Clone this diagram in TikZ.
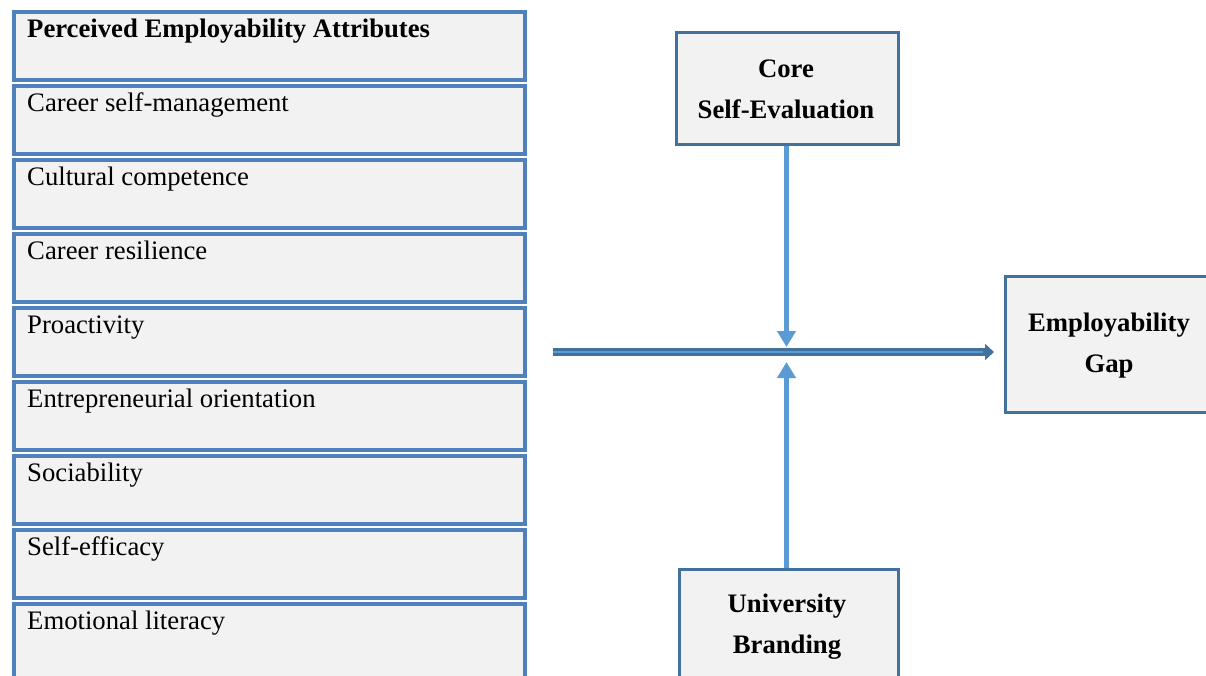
\documentclass[tikz,border=0pt]{standalone}
\usepackage{fontspec}
\setmainfont{Liberation Serif}
\usetikzlibrary{arrows.meta}
\definecolor{colborder}{HTML}{4F81BD}
\definecolor{boxborder}{HTML}{41719C}
\definecolor{boxfill}{HTML}{F2F2F2}
\definecolor{arrowlight}{HTML}{5B9BD5}
\begin{document}
\begin{tikzpicture}[x=1pt,y=-1pt,
  attrbox/.style={draw=colborder,fill=boxfill,line width=4pt,rectangle,inner sep=0pt,minimum width=511pt,minimum height=68pt,anchor=north west},
  attrtext/.style={anchor=base west,inner sep=0pt,font=\fontsize{26.7}{30}\selectfont},
  sidebox/.style={draw=boxborder,fill=boxfill,line width=2.5pt,rectangle,inner sep=0pt,anchor=north west},
  sidetext/.style={align=center,inner sep=0pt,font=\fontsize{26.7}{41}\selectfont\bfseries},
  varrow/.style={draw=arrowlight,line width=4.5pt,-{Triangle[width=18pt,length=16pt]}},
]
\useasboundingbox (0,0) rectangle (1206,675);
\clip (0,0) rectangle (1206,675);
% left column
\node[attrbox] (b1) at (12,10) {};
\node[attrbox] (b2) at (12,84) {};
\node[attrbox] (b3) at (12,158) {};
\node[attrbox] (b4) at (12,232) {};
\node[attrbox] (b5) at (12,306) {};
\node[attrbox] (b6) at (12,380) {};
\node[attrbox] (b7) at (12,454) {};
\node[attrbox] (b8) at (12,528) {};
\node[attrbox,minimum height=90pt] (b9) at (12,602) {};
\node[attrtext,font=\fontsize{26.7}{30}\selectfont\bfseries] (t1) at (27,37) {Perceived Employability Attributes};
\node[attrtext] (t2) at (27,111) {Career self-management};
\node[attrtext] (t3) at (27,185) {Cultural competence};
\node[attrtext] (t4) at (27,259) {Career resilience};
\node[attrtext] (t5) at (27,333) {Proactivity};
\node[attrtext] (t6) at (27,407) {Entrepreneurial orientation};
\node[attrtext] (t7) at (27,481) {Sociability};
\node[attrtext] (t8) at (27,555) {Self-efficacy};
\node[attrtext] (t9) at (27,629) {Emotional literacy};
% right boxes
\node[sidebox,minimum width=222pt,minimum height=112pt] (cse) at (675,31) {};
\node[sidetext] (cset) at (786,89) {Core\\Self-Evaluation};
\node[sidebox,minimum width=208pt,minimum height=136pt] (gap) at (1004,275) {};
\node[sidetext] (gapt) at (1109,346) {Employability\\ Gap};
\node[sidebox,minimum width=219pt,minimum height=140pt] (ub) at (678,568) {};
\node[sidetext] (ubt) at (787,627) {University\\Branding};
% connectors
\coordinate (hs) at (553,352);
\coordinate (mid) at (786.5,352);
\draw[draw=boxborder,line width=7.5pt,-{Triangle[width=16pt,length=9pt]},shorten >=10pt] (hs) -- (gap.west |- hs);
\draw[draw=arrowlight,line width=2pt,shorten >=21pt] (hs) -- (gap.west |- hs);
\draw[varrow,shorten >=5pt] (cse.south -| mid) -- (mid);
\draw[varrow,shorten >=10pt] (ub.north -| mid) -- (mid);
\end{tikzpicture}
\end{document}
